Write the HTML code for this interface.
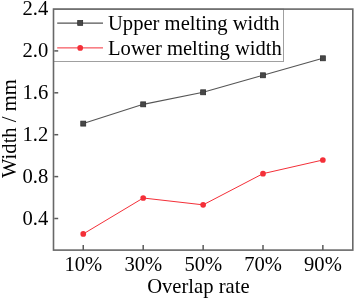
<!DOCTYPE html>
<html><head><meta charset="utf-8">
<style>
html,body{margin:0;padding:0;background:#fff;}
body{width:354px;height:298px;overflow:hidden;}
svg{display:block;will-change:transform;}
text{font-family:"Liberation Serif",serif;fill:#000;}
</style></head>
<body>
<svg width="354" height="298" viewBox="0 0 354 298">
<rect x="0" y="0" width="354" height="298" fill="#fff"/>
<rect x="53.5" y="9.1" width="230" height="52.4" fill="none" stroke="#a0a0a0" stroke-width="1"/>
<rect x="53.5" y="9.1" width="299.3" height="241" fill="none" stroke="#686868" stroke-width="1.6"/>
<g stroke="#5a5a5a" stroke-width="1.5">
<line x1="54.3" y1="50.9" x2="58.2" y2="50.9"/>
<line x1="54.3" y1="92.8" x2="58.2" y2="92.8"/>
<line x1="54.3" y1="134.7" x2="58.2" y2="134.7"/>
<line x1="54.3" y1="176.6" x2="58.2" y2="176.6"/>
<line x1="54.3" y1="218.5" x2="58.2" y2="218.5"/>
<line x1="83.25" y1="250" x2="83.25" y2="245"/>
<line x1="143.2" y1="250" x2="143.2" y2="245"/>
<line x1="203.15" y1="250" x2="203.15" y2="245"/>
<line x1="263.0" y1="250" x2="263.0" y2="245"/>
<line x1="322.85" y1="250" x2="322.85" y2="245"/>
</g>
<g font-size="20.6" text-anchor="end">
<text x="48.2" y="14.8">2.4</text>
<text x="48.2" y="56.8">2.0</text>
<text x="48.2" y="98.8">1.6</text>
<text x="48.2" y="140.8">1.2</text>
<text x="48.2" y="182.8">0.8</text>
<text x="48.2" y="224.8">0.4</text>
</g>
<g font-size="20.6" text-anchor="middle">
<text x="83.35" y="271.3">10%</text>
<text x="143.30" y="271.3">30%</text>
<text x="203.25" y="271.3">50%</text>
<text x="263.10" y="271.3">70%</text>
<text x="322.95" y="271.3">90%</text>
</g>
<text x="147.2" y="293" font-size="20.6">Overlap rate</text>
<text transform="translate(15.9,178) rotate(-90)" font-size="20.6">Width / mm</text>
<polyline points="83.25,123.6 143.2,104.35 203.15,92.3 263.0,75.3 322.85,58.3" fill="none" stroke="#555" stroke-width="1.1"/>
<polyline points="83.25,233.95 143.2,198.0 203.15,204.85 263.0,173.65 322.85,160.0" fill="none" stroke="#f42f38" stroke-width="1.0"/>
<g fill="#474747" stroke="#2a2a2a" stroke-width="0.7">
<rect x="80.75" y="121.10" width="5.0" height="5.0"/>
<rect x="140.70" y="101.85" width="5.0" height="5.0"/>
<rect x="200.65" y="89.80" width="5.0" height="5.0"/>
<rect x="260.50" y="72.80" width="5.0" height="5.0"/>
<rect x="320.35" y="55.80" width="5.0" height="5.0"/>
</g>
<g fill="#f42f38">
<circle cx="83.25" cy="233.95" r="2.85"/>
<circle cx="143.2" cy="198.0" r="2.85"/>
<circle cx="203.15" cy="204.85" r="2.85"/>
<circle cx="263.0" cy="173.65" r="2.85"/>
<circle cx="322.85" cy="160.0" r="2.85"/>
</g>
<line x1="57.2" y1="23.1" x2="103" y2="23.1" stroke="#555" stroke-width="1.1"/>
<rect x="77.7" y="20.4" width="5" height="5" fill="#474747" stroke="#2a2a2a" stroke-width="0.7"/>
<line x1="57.2" y1="47.9" x2="103" y2="47.9" stroke="#f42f38" stroke-width="1.0"/>
<circle cx="80.2" cy="47.9" r="2.85" fill="#f42f38"/>
<text x="108" y="30.3" font-size="20.6">Upper melting width</text>
<text x="108" y="55.2" font-size="20.6">Lower melting width</text>
</svg>
</body></html>
